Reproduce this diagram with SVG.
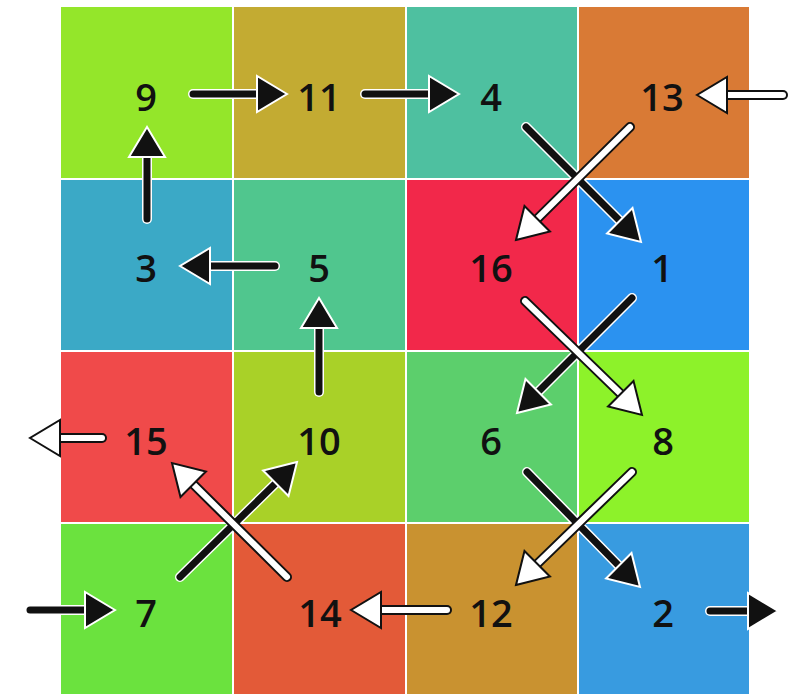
<svg xmlns="http://www.w3.org/2000/svg" xmlns:xlink="http://www.w3.org/1999/xlink" width="792" height="696" viewBox="0 0 792 696">
<style>
.lbl{font-family:"Open Sans","Noto Sans","Liberation Sans",sans-serif;font-size:38px;font-weight:600;fill:#111;text-anchor:middle}
.ab .o{stroke:#fff;stroke-width:10;stroke-linecap:round;fill:none}
.ab .i{stroke:#111;stroke-width:7;stroke-linecap:round;fill:none}
.aw .o{stroke:#111;stroke-width:10;stroke-linecap:round;fill:none}
.aw .i{stroke:#fff;stroke-width:6;stroke-linecap:round;fill:none}
</style>
<defs>
<polygon id="hb" points="0,0 -30,-18 -30,18" fill="#111" stroke="#fff" stroke-width="2" stroke-linejoin="miter"/>
<polygon id="hw" points="0,0 -30,-18 -30,18" fill="#fff" stroke="#111" stroke-width="2" stroke-linejoin="miter"/>
</defs>
<rect width="792" height="696" fill="#fff"/>
<g id="n9"><rect x="61" y="7" width="171" height="171" fill="#94e62a"/><text class="lbl" x="146" y="111">9</text></g>
<g id="n11"><rect x="234" y="7" width="171" height="171" fill="#c3ab32"/><text class="lbl" x="319" y="111">11</text></g>
<g id="n4"><rect x="407" y="7" width="170" height="171" fill="#4ec0a0"/><text class="lbl" x="491" y="111">4</text></g>
<g id="n13"><rect x="579" y="7" width="170" height="171" fill="#d97a35"/><text class="lbl" x="662" y="111">13</text></g>
<g id="n3"><rect x="61" y="180" width="171" height="170" fill="#3ba9c6"/><text class="lbl" x="146" y="282">3</text></g>
<g id="n5"><rect x="234" y="180" width="171" height="170" fill="#50c68e"/><text class="lbl" x="319" y="282">5</text></g>
<g id="n16"><rect x="407" y="180" width="170" height="170" fill="#f2284a"/><text class="lbl" x="491" y="282">16</text></g>
<g id="n1"><rect x="579" y="180" width="170" height="170" fill="#2b92f0"/><text class="lbl" x="662" y="282">1</text></g>
<g id="n15"><rect x="61" y="352" width="171" height="170" fill="#f04a4a"/><text class="lbl" x="146" y="455">15</text></g>
<g id="n10"><rect x="234" y="352" width="171" height="170" fill="#a9d128"/><text class="lbl" x="319" y="455">10</text></g>
<g id="n6"><rect x="407" y="352" width="170" height="170" fill="#5ccf6c"/><text class="lbl" x="491" y="455">6</text></g>
<g id="n8"><rect x="579" y="352" width="170" height="170" fill="#8df22a"/><text class="lbl" x="663" y="455">8</text></g>
<g id="n7"><rect x="61" y="524" width="171" height="170" fill="#6be23e"/><text class="lbl" x="146" y="627">7</text></g>
<g id="n14"><rect x="234" y="524" width="171" height="170" fill="#e35a38"/><text class="lbl" x="320" y="627">14</text></g>
<g id="n12"><rect x="407" y="524" width="170" height="170" fill="#c99230"/><text class="lbl" x="491" y="627">12</text></g>
<g id="n2"><rect x="579" y="524" width="170" height="170" fill="#389be0"/><text class="lbl" x="663" y="627">2</text></g>
<g id="connectors">
<g class="ab"><line class="o" x1="193" y1="94" x2="261" y2="94"/><line class="i" x1="193" y1="94" x2="261" y2="94"/><use xlink:href="#hb" transform="translate(287,94)"/></g>
<g class="ab"><line class="o" x1="365" y1="94" x2="433" y2="94"/><line class="i" x1="365" y1="94" x2="433" y2="94"/><use xlink:href="#hb" transform="translate(459,94)"/></g>
<g class="ab"><line class="o" x1="147" y1="219" x2="147" y2="153"/><line class="i" x1="147" y1="219" x2="147" y2="153"/><use xlink:href="#hb" transform="translate(147,127) rotate(-90)"/></g>
<g class="ab"><line class="o" x1="275" y1="266" x2="206" y2="266"/><line class="i" x1="275" y1="266" x2="206" y2="266"/><use xlink:href="#hb" transform="translate(180,266) rotate(180)"/></g>
<g class="ab"><line class="o" x1="319" y1="392" x2="319" y2="324"/><line class="i" x1="319" y1="392" x2="319" y2="324"/><use xlink:href="#hb" transform="translate(319,298) rotate(-90)"/></g>
<g class="ab"><line class="o" x1="526" y1="127" x2="623" y2="224"/><line class="i" x1="526" y1="127" x2="623" y2="224"/><use xlink:href="#hb" transform="translate(641,242) rotate(45)"/></g>
<g class="ab"><line class="o" x1="632" y1="298" x2="535" y2="395"/><line class="i" x1="632" y1="298" x2="535" y2="395"/><use xlink:href="#hb" transform="translate(517,413) rotate(135)"/></g>
<g class="ab"><line class="o" x1="527" y1="472" x2="622" y2="569"/><line class="i" x1="527" y1="472" x2="622" y2="569"/><use xlink:href="#hb" transform="translate(640,587) rotate(45)"/></g>
<g class="ab"><line class="o" x1="180" y1="577" x2="279" y2="480"/><line class="i" x1="180" y1="577" x2="279" y2="480"/><use xlink:href="#hb" transform="translate(297,462) rotate(-45)"/></g>
<g class="ab"><line class="o" x1="30" y1="610" x2="89" y2="610"/><line class="i" x1="30" y1="610" x2="89" y2="610"/><use xlink:href="#hb" transform="translate(115,610)"/></g>
<g class="ab"><line class="o" x1="710" y1="611" x2="752" y2="611"/><line class="i" x1="710" y1="611" x2="752" y2="611"/><use xlink:href="#hb" transform="translate(778,611)"/></g>
<g class="aw"><line class="o" x1="783" y1="95" x2="723" y2="95"/><line class="i" x1="783" y1="95" x2="723" y2="95"/><use xlink:href="#hw" transform="translate(697,95) rotate(180)"/></g>
<g class="aw"><line class="o" x1="630" y1="127" x2="534" y2="222"/><line class="i" x1="630" y1="127" x2="534" y2="222"/><use xlink:href="#hw" transform="translate(516,240) rotate(135)"/></g>
<g class="aw"><line class="o" x1="525" y1="301" x2="624" y2="397"/><line class="i" x1="525" y1="301" x2="624" y2="397"/><use xlink:href="#hw" transform="translate(642,415) rotate(45)"/></g>
<g class="aw"><line class="o" x1="632" y1="472" x2="534" y2="567"/><line class="i" x1="632" y1="472" x2="534" y2="567"/><use xlink:href="#hw" transform="translate(516,585) rotate(135)"/></g>
<g class="aw"><line class="o" x1="447" y1="610" x2="377" y2="610"/><line class="i" x1="447" y1="610" x2="377" y2="610"/><use xlink:href="#hw" transform="translate(351,610) rotate(180)"/></g>
<g class="aw"><line class="o" x1="287" y1="577" x2="190" y2="481"/><line class="i" x1="287" y1="577" x2="190" y2="481"/><use xlink:href="#hw" transform="translate(172,463) rotate(-135)"/></g>
<g class="aw"><line class="o" x1="102" y1="438" x2="56" y2="438"/><line class="i" x1="102" y1="438" x2="56" y2="438"/><use xlink:href="#hw" transform="translate(30,438) rotate(180)"/></g>
</g>
</svg>
